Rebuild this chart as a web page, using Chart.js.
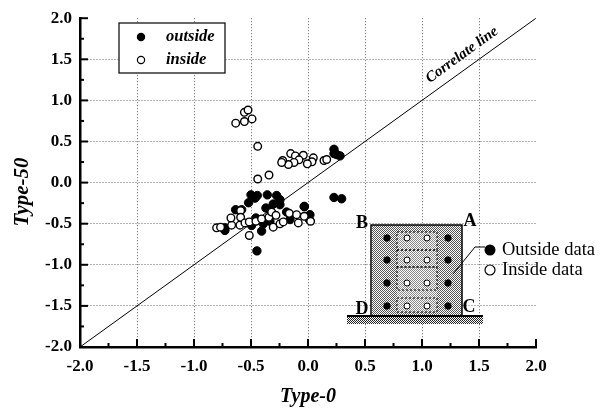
<!DOCTYPE html>
<html>
<head>
<meta charset="utf-8">
<script src="https://cdn.jsdelivr.net/npm/chart.js@4/dist/chart.umd.min.js"></script>
<style>
  html, body { margin: 0; padding: 0; background: #fff; }
  canvas { display: block; }
</style>
</head>
<body>
<canvas id="chart" width="610" height="410"></canvas>
<script>
const outsideX = [0.228, 0.228, 0.281, 0.252, 0.228, 0.295, -0.032, -0.50, -0.445, -0.465, -0.521, -0.357, -0.275, -0.246, -0.305, -0.246, -0.369, -0.334, -0.033, -0.635, -0.582, -0.188, 0.017, -0.158, 0.011, -0.334, -0.392, -0.457, -0.407, -0.495, -0.729, -0.729, -0.448];
const outsideY = [0.405, 0.353, 0.325, 0.341, -0.181, -0.197, -0.294, -0.149, -0.157, -0.189, -0.245, -0.149, -0.157, -0.209, -0.261, -0.269, -0.309, -0.33, -0.289, -0.33, -0.33, -0.358, -0.39, -0.45, -0.45, -0.47, -0.502, -0.43, -0.59, -0.522, -0.582, -0.55, -0.831];
const insideX = [-0.634, -0.558, -0.491, -0.558, -0.526, -0.441, -0.342, -0.441, -0.152, -0.111, -0.041, 0.047, 0.035, -0.006, -0.079, -0.123, -0.172, -0.222, -0.231, 0.14, 0.164, -0.802, -0.767, -0.67, -0.676, -0.591, -0.591, -0.597, -0.553, -0.515, -0.515, -0.457, -0.407, -0.343, -0.319, -0.281, -0.305, -0.246, -0.217, -0.164, -0.1, -0.085, -0.033, 0.023];
const insideY = [0.723, 0.743, 0.775, 0.855, 0.883, 0.441, 0.092, 0.044, 0.353, 0.325, 0.333, 0.301, 0.253, 0.229, 0.277, 0.245, 0.22, 0.269, 0.245, 0.269, 0.281, -0.55, -0.542, -0.518, -0.43, -0.341, -0.422, -0.518, -0.49, -0.478, -0.643, -0.47, -0.442, -0.422, -0.358, -0.398, -0.542, -0.502, -0.478, -0.374, -0.39, -0.49, -0.41, -0.47];
const lineX = [-2, 2];
const lineY = [-2, 2];

const serif = '"Liberation Serif", serif';

function toPoints(xs, ys) {
  return xs.map((x, i) => ({ x: x, y: ys[i] }));
}

function isMajor(v) {
  return Math.abs(v * 2 - Math.round(v * 2)) < 1e-6;
}

// thick axis ticks pointing into the plot
const axisTicks = {
  id: 'axisTicks',
  afterDatasetsDraw(chart) {
    const { ctx, scales, chartArea: a } = chart;
    ctx.save();
    ctx.strokeStyle = '#000';
    ctx.lineWidth = 2;
    scales.x.ticks.forEach(t => {
      const p = scales.x.getPixelForValue(t.value);
      ctx.beginPath();
      ctx.moveTo(p, a.bottom);
      ctx.lineTo(p, a.bottom - (isMajor(t.value) ? 8 : 4));
      ctx.stroke();
    });
    scales.y.ticks.forEach(t => {
      const p = scales.y.getPixelForValue(t.value);
      ctx.beginPath();
      ctx.moveTo(a.left, p);
      ctx.lineTo(a.left + (isMajor(t.value) ? 8 : 4), p);
      ctx.stroke();
    });
    ctx.restore();
  }
};

// legend box, drawn from the dataset labels
const legendBox = {
  id: 'legendBox',
  afterDatasetsDraw(chart) {
    const ctx = chart.ctx;
    ctx.save();
    ctx.fillStyle = '#fff';
    ctx.fillRect(119, 23, 106, 50);
    ctx.strokeStyle = '#000';
    ctx.lineWidth = 1.2;
    ctx.strokeRect(119, 23, 106, 50);
    ctx.font = 'italic bold 16.5px ' + serif;
    ctx.textBaseline = 'middle';
    [0, 1].forEach(i => {
      const ds = chart.data.datasets[i];
      const y = 37 + i * 23;
      ctx.beginPath();
      ctx.arc(141, y, 3.6, 0, Math.PI * 2);
      ctx.fillStyle = ds.pointBackgroundColor;
      ctx.fill();
      ctx.strokeStyle = '#000';
      ctx.lineWidth = 1.2;
      ctx.stroke();
      ctx.fillStyle = '#000';
      ctx.fillText(ds.label, 166, y);
    });
    ctx.restore();
  }
};

// rotated labels: the diagonal's name and the y axis title, which sits below centre
const rotatedLabels = {
  id: 'rotatedLabels',
  afterDatasetsDraw(chart) {
    const ctx = chart.ctx;
    ctx.save();
    ctx.fillStyle = '#000';
    ctx.textAlign = 'center';
    ctx.textBaseline = 'middle';

    ctx.save();
    ctx.translate(462, 55);
    ctx.rotate(-36 * Math.PI / 180);
    ctx.font = 'italic bold 15px ' + serif;
    ctx.fillText('Correlate line', 0, 0);
    ctx.restore();

    ctx.save();
    ctx.translate(23, 192);
    ctx.rotate(-Math.PI / 2);
    ctx.font = 'italic bold 21px ' + serif;
    ctx.fillText('Type-50', 0, 0);
    ctx.restore();

    ctx.restore();
  }
};

function stipple(ctx, dark) {
  const c = document.createElement('canvas');
  c.width = 2;
  c.height = 2;
  const g = c.getContext('2d');
  g.fillStyle = '#fff';
  g.fillRect(0, 0, 2, 2);
  g.fillStyle = dark;
  g.fillRect(0, 0, 1, 1);
  g.fillRect(1, 1, 1, 1);
  return ctx.createPattern(c, 'repeat');
}

// wall section sketch at lower right
const wallSketch = {
  id: 'wallSketch',
  afterDatasetsDraw(chart) {
    const ctx = chart.ctx;
    ctx.save();

    ctx.fillStyle = stipple(ctx, '#555');
    ctx.fillRect(372, 225, 90, 91);
    ctx.strokeStyle = '#000';
    ctx.lineWidth = 1.5;
    ctx.beginPath();
    ctx.moveTo(371, 316);
    ctx.lineTo(371, 225);
    ctx.lineTo(462, 225);
    ctx.lineTo(462, 316);
    ctx.stroke();

    ctx.fillStyle = stipple(ctx, '#222');
    ctx.fillRect(347, 316, 136, 8);
    ctx.fillStyle = '#000';
    ctx.fillRect(347, 315, 136, 2);

    // inner zones
    ctx.fillStyle = stipple(ctx, '#888');
    ctx.fillRect(397, 232, 40, 80);
    ctx.strokeStyle = '#000';
    ctx.lineWidth = 1;
    ctx.setLineDash([2, 2]);
    ctx.strokeRect(397, 232, 40, 18);
    ctx.strokeRect(397, 250, 40, 17);
    ctx.strokeRect(397, 267, 40, 23);
    ctx.strokeRect(397, 298, 40, 14);
    ctx.setLineDash([]);

    const cols = [387, 407, 427, 448];
    const rows = [238, 260, 283, 306];
    rows.forEach(y => cols.forEach((x, i) => {
      const isIn = i === 1 || i === 2;
      ctx.beginPath();
      ctx.arc(x, y, isIn ? 3 : 3.2, 0, Math.PI * 2);
      ctx.fillStyle = isIn ? '#fff' : '#000';
      ctx.fill();
      ctx.strokeStyle = '#000';
      ctx.lineWidth = 1;
      ctx.stroke();
    }));

    // callout to the key
    ctx.beginPath();
    ctx.moveTo(453, 274);
    ctx.lineTo(475, 247);
    ctx.lineTo(485, 247);
    ctx.lineWidth = 1;
    ctx.stroke();

    ctx.beginPath();
    ctx.arc(490, 250, 5.5, 0, Math.PI * 2);
    ctx.fillStyle = '#000';
    ctx.fill();
    ctx.beginPath();
    ctx.arc(490, 270, 5, 0, Math.PI * 2);
    ctx.fillStyle = '#fff';
    ctx.fill();
    ctx.lineWidth = 1.2;
    ctx.stroke();

    ctx.fillStyle = '#000';
    ctx.textBaseline = 'middle';
    ctx.font = '18.5px ' + serif;
    ctx.fillText('Outside data', 502, 250);
    ctx.fillText('Inside data', 502, 270);

    ctx.font = 'bold 18px ' + serif;
    ctx.textAlign = 'center';
    ctx.fillText('B', 362, 223);
    ctx.fillText('A', 470, 221);
    ctx.fillText('D', 362, 309);
    ctx.fillText('C', 469, 307);
    ctx.restore();
  }
};

const gridColor = c => (isMajor(c.tick.value) && c.tick.value !== 2 ? '#666' : 'rgba(0,0,0,0)');

new Chart(document.getElementById('chart'), {
  type: 'scatter',
  data: {
    datasets: [
      {
        label: 'outside',
        data: toPoints(outsideX, outsideY),
        pointRadius: 4.2,
        pointBackgroundColor: '#000',
        pointBorderColor: '#000',
        pointBorderWidth: 1,
        order: 3
      },
      {
        label: 'inside',
        data: toPoints(insideX, insideY),
        pointRadius: 3.8,
        pointBackgroundColor: '#fff',
        pointBorderColor: '#000',
        pointBorderWidth: 1.4,
        order: 1
      },
      {
        label: 'Correlate line',
        data: toPoints(lineX, lineY),
        showLine: true,
        borderColor: '#000',
        borderWidth: 1,
        pointRadius: 0,
        order: 2
      }
    ]
  },
  plugins: [axisTicks, rotatedLabels, legendBox, wallSketch],
  options: {
    responsive: false,
    animation: false,
    layout: { padding: { top: 15, right: 74, left: 0, bottom: 0 } },
    plugins: { legend: { display: false }, tooltip: { enabled: false } },
    scales: {
      x: {
        type: 'linear',
        min: -2,
        max: 2,
        afterFit(scale) { scale.height = 63; },
        title: {
          display: true,
          text: 'Type-0',
          color: '#000',
          font: { family: serif, size: 20, weight: 'bold', style: 'italic' },
          padding: { top: 0, bottom: 1 }
        },
        border: { display: true, color: '#000', width: 2.5, dash: [1, 2] },
        grid: { drawTicks: false, color: gridColor, lineWidth: 1 },
        ticks: {
          stepSize: 0.25,
          autoSkip: false,
          maxRotation: 0,
          padding: 9,
          color: '#000',
          font: { family: serif, size: 17, weight: 'bold' },
          callback: v => (isMajor(v) ? v.toFixed(1) : '')
        }
      },
      y: {
        type: 'linear',
        min: -2,
        max: 2,
        afterFit(scale) { scale.width = 80; },
        border: { display: true, color: '#000', width: 2.5, dash: [1, 2] },
        grid: { drawTicks: false, color: gridColor, lineWidth: 1 },
        ticks: {
          stepSize: 0.25,
          autoSkip: false,
          padding: 8,
          color: '#000',
          font: { family: serif, size: 17, weight: 'bold' },
          callback: v => (isMajor(v) ? v.toFixed(1) : '')
        }
      }
    }
  }
});
</script>
</body>
</html>
